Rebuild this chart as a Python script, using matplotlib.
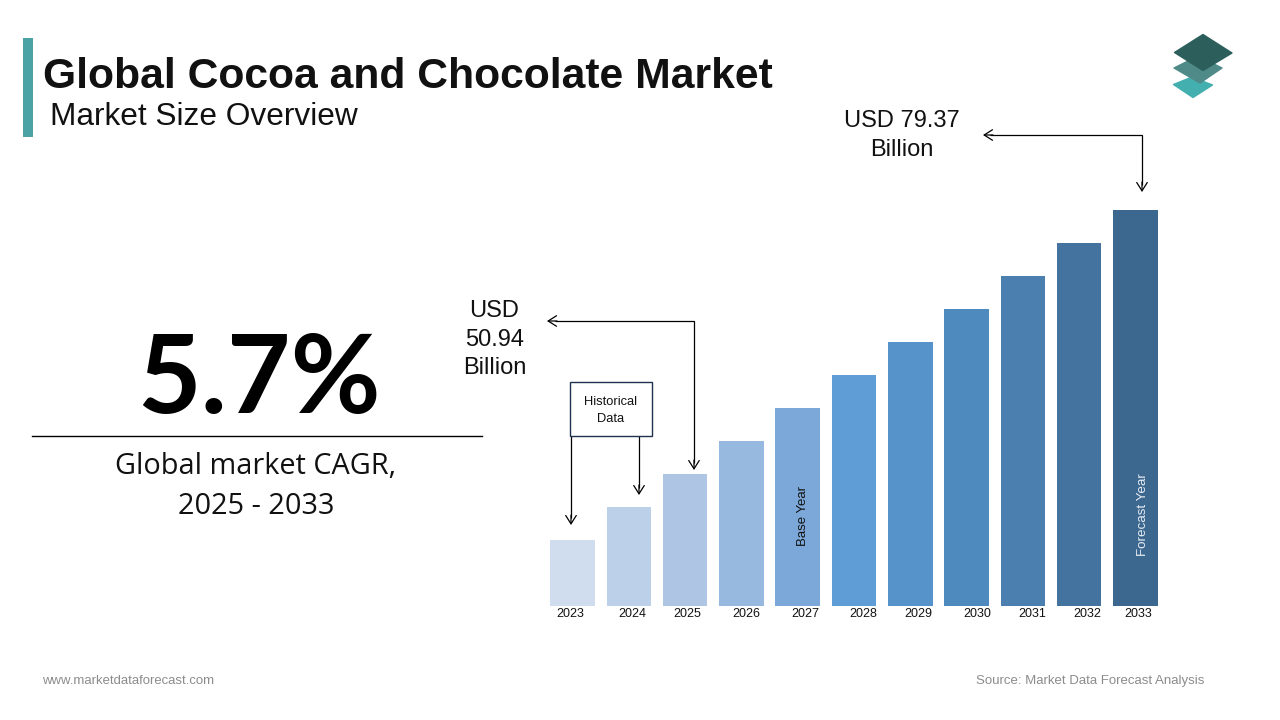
import matplotlib
matplotlib.use("Agg")
import matplotlib.pyplot as plt
from matplotlib.patches import Polygon, Rectangle

years = ["2023", "2024", "2025", "2026", "2027", "2028", "2029", "2030", "2031", "2032", "2033"]
bar_heights = [66, 99, 132, 165, 198, 231, 264, 297, 330, 363, 396]
bar_colors = ["#D0DDEE", "#BDD0E9", "#AEC6E3", "#98B9DF", "#7BA8D8", "#5F9DD7",
              "#5693CB", "#4F8ABE", "#4A7FB0", "#44739F", "#3C678F"]
tick_x = [570, 632, 687, 746, 805, 863, 918, 977, 1032, 1087, 1138]

W, H = 1280, 720
fig = plt.figure(figsize=(12.8, 7.2), dpi=100, facecolor="white")

# overlay in pixel coordinates
ov = fig.add_axes([0, 0, 1, 1])
ov.set_xlim(0, W)
ov.set_ylim(H, 0)
ov.axis("off")

# bars
left, right, base, top = 544.35, 1163.65, 606, 210
ax = fig.add_axes([left / W, 1 - base / H, (right - left) / W, (base - top) / H])
ax.bar(range(len(years)), bar_heights, width=0.79, color=bar_colors, linewidth=0)
ax.set_xlim(-0.5, 10.5)
ax.set_ylim(0, 396)
ax.axis("off")

SANS = "Liberation Sans"
OPEN = "Open Sans"

for x, y in zip(tick_x, years):
    ov.text(x, 614, y, ha="center", va="center", fontsize=9, family=SANS, color="#111111")

# header
ov.add_patch(Rectangle((23, 38), 10, 99, color="#4BA3A5", lw=0))
ov.text(43, 77, "Global Cocoa and Chocolate Market", fontsize=30.7, fontweight="bold",
        family=SANS, color="#111111", va="center", ha="left")
ov.text(50, 117, "Market Size Overview", fontsize=22.75, family=SANS, color="#111111",
        va="center", ha="left")

# logo
ov.add_patch(Polygon([(1173.5, 84.5), (1192, 77), (1212.5, 85), (1193, 97.5)], closed=True,
                     facecolor="#43AFAE", edgecolor="#43AFAE", lw=1, joinstyle="round"))
ov.add_patch(Polygon([(1174, 68), (1198, 56), (1222, 68), (1200, 83)], closed=True,
                     facecolor="#4F8A88", edgecolor="#4F8A88", lw=1, joinstyle="round"))
ov.add_patch(Polygon([(1174.5, 52.5), (1203, 34.5), (1232, 53), (1203, 70.5)], closed=True,
                     facecolor="#2C5F5C", edgecolor="#2C5F5C", lw=1, joinstyle="round"))

# left panel
ov.text(259, 381, "5.7%", fontsize=79, fontweight="bold", family="Lato", color="black",
        ha="center", va="center")
ov.plot([32, 482], [436, 436], color="black", lw=1)
ov.text(256, 467, "Global market CAGR,", fontsize=20.8, family=OPEN, color="#111111",
        ha="center", va="center")
ov.text(256, 507, "2025 - 2033", fontsize=20.8, family=OPEN, color="#111111",
        ha="center", va="center")

# value callouts
ov.text(902, 135.5, "USD 79.37\nBillion", fontsize=17, family=SANS, color="#111111",
        ha="center", va="center", linespacing=1.37)
ov.text(494.5, 339.5, "USD\n50.94\nBillion", fontsize=17, family=SANS, color="#111111",
        ha="center", va="center", linespacing=1.37)

def line(xs, ys):
    ov.plot(xs, ys, color="black", lw=0.9, solid_capstyle="butt", solid_joinstyle="miter")

def head(x, y, dx, dy):
    ov.annotate("", xy=(x, y), xytext=(x + dx, y + dy),
                arrowprops=dict(arrowstyle="->,head_length=0.6,head_width=0.38", lw=0.9,
                                color="black", shrinkA=0, shrinkB=0))

# 2033 arrow
line([1142, 1142, 990], [185, 135, 135])
head(1142, 192, 0, -10)
head(983, 135, 10, 0)
# 2025 arrow
line([694, 694, 555], [463, 321, 321])
head(694, 470, 0, -10)
head(547, 321, 10, 0)

# historical box
ov.add_patch(Rectangle((570, 382), 82, 54, facecolor="white", edgecolor="#1F3350", lw=1, zorder=3))
ov.text(610.5, 410.5, "Historical\nData", fontsize=9.3, family=SANS, color="#111111",
        ha="center", va="center", linespacing=1.45, zorder=4)
line([571, 571], [436, 518])
head(571, 525, 0, -10)
line([639, 639], [436, 488])
head(639, 495, 0, -10)

# rotated labels
ov.text(803, 516, "Base Year", rotation=90, fontsize=9.5, family=SANS, color="#111111",
        ha="center", va="center")
ov.text(1143.5, 515, "Forecast Year", rotation=90, fontsize=9.6, family=SANS, color="#E8EEF4",
        ha="center", va="center")

# footer
ov.text(42, 681, "www.marketdataforecast.com", fontsize=9.45, family=SANS, color="#8C8C8C",
        ha="left", va="center")
ov.text(1204, 681, "Source: Market Data Forecast Analysis", fontsize=9.55, family=SANS,
        color="#8C8C8C", ha="right", va="center")

ax.set_zorder(1)
ov.set_zorder(2)
ov.patch.set_alpha(0)
fig.savefig("out.png", dpi=100, facecolor="white")
